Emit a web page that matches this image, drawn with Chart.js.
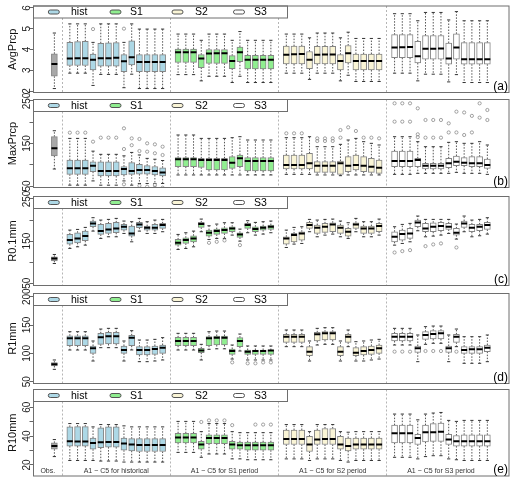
<!DOCTYPE html>
<html><head><meta charset="utf-8">
<script src="https://cdn.jsdelivr.net/npm/chart.js@4.4.1/dist/chart.umd.min.js"></script>
<style>
html,body{margin:0;padding:0;background:#fff;}
#wrap{position:relative;width:515px;height:482px;overflow:hidden;}
#wrap canvas{position:absolute;left:0;top:0;}
</style></head>
<body><div id="wrap">
<canvas id="c0" width="515" height="482"></canvas>
<canvas id="c1" width="515" height="482"></canvas>
<canvas id="c2" width="515" height="482"></canvas>
<canvas id="c3" width="515" height="482"></canvas>
<canvas id="c4" width="515" height="482"></canvas>
</div>
<script>
// ---------- categories ----------
const groups = ['hist', 'S1', 'S2', 'S3'];
const nModels = 13;   // A1 ~ C5 per group
const xLabels = ['Obs.', 'A1 ~ C5 for historical', 'A1 ~ C5 for S1 period', 'A1 ~ C5 for S2 period', 'A1 ~ C5 for S3 period'];

// ---------- AvgPrcp (index 0 = Obs., then hist, S1, S2, S3 x 13) ----------
const avgMin = [2.12,
 2.86,2.86,2.86,2.27,2.80,2.80,2.80,2.16,2.81,2.12,2.12,2.12,2.12,
 2.79,2.79,2.79,2.49,2.71,2.71,2.71,2.41,2.71,2.41,2.41,2.41,2.41,
 2.86,2.86,2.86,2.56,2.86,2.86,2.86,2.49,2.76,2.46,2.46,2.46,2.46,
 2.86,2.86,2.86,2.49,2.81,2.81,2.81,2.44,2.79,2.41,2.41,2.41,2.41];
const avgQ1 = [2.71,
 3.23,3.23,3.23,3.01,3.20,3.20,3.20,2.93,3.26,2.93,2.93,2.93,2.93,
 3.38,3.38,3.38,3.13,3.33,3.33,3.33,3.08,3.41,3.06,3.06,3.06,3.06,
 3.30,3.30,3.30,3.08,3.30,3.30,3.30,3.01,3.35,3.01,3.01,3.01,3.01,
 3.60,3.60,3.60,3.35,3.53,3.53,3.53,3.29,3.53,3.29,3.29,3.29,3.29];
const avgMed = [3.30,
 3.56,3.58,3.58,3.50,3.58,3.58,3.60,3.43,3.62,3.40,3.40,3.40,3.40,
 3.87,3.87,3.87,3.56,3.80,3.82,3.82,3.45,3.87,3.50,3.50,3.50,3.50,
 3.75,3.77,3.78,3.50,3.75,3.76,3.76,3.45,3.82,3.45,3.45,3.45,3.45,
 4.09,4.11,4.12,3.67,4.03,4.04,4.05,3.57,4.09,3.53,3.53,3.53,3.53];
const avgQ3 = [3.79,
 4.34,4.38,4.39,3.78,4.30,4.32,4.33,3.75,4.41,3.75,3.75,3.75,3.75,
 4.02,4.02,4.02,3.75,4.00,4.00,4.00,3.70,4.12,3.72,3.72,3.72,3.72,
 4.16,4.16,4.16,3.90,4.15,4.15,4.15,3.75,4.19,3.78,3.78,3.78,3.78,
 4.71,4.71,4.71,4.39,4.67,4.67,4.67,4.31,4.75,4.33,4.33,4.33,4.33];
const avgMax = [4.79,
 5.23,5.23,5.23,4.34,5.23,5.23,5.23,4.34,5.23,4.98,4.98,4.98,4.98,
 4.74,4.74,4.74,4.44,4.74,4.74,4.74,4.44,4.86,4.44,4.44,4.44,4.44,
 4.74,4.74,4.74,4.56,4.79,4.79,4.79,4.56,4.83,4.53,4.53,4.53,4.53,
 5.72,5.72,5.72,5.38,5.78,5.78,5.78,5.42,5.82,5.38,5.38,5.38,5.38];
const avgOut = [[4,4.98],[8,5.00]];
const avgTicks = [2,3,4,5,6];
const avgTickLabels = ['2','3','4','5','6'];

// ---------- MaxPrcp ----------
const maxMin = [90,
 52,52,52,62,52,52,52,62,52,56,56,56,56,
 76,76,76,76,76,76,76,76,76,76,76,76,76,
 77.4,77.4,77.4,77.4,76,76,76,74.3,76,76,76,76,76,
 77.4,77.4,77.4,79.8,79.8,79.8,79.8,79.8,82.1,79.8,79.8,79.8,77.4];
const maxQ1 = [121,
 77.5,77.5,77.5,83.7,73.5,73.5,73.5,76,77.5,78,78,76,74,
 95.5,95.5,95.5,94,87.6,87.6,87.6,91.6,95.5,85.3,85.3,85.3,85.3,
 90,90,90,90,82.1,82.1,82.1,77.4,83.7,87.6,83.7,82.1,79.8,
 95.5,95.5,95.5,95.5,90,90,90,93.1,97.8,97.8,95.5,95.5,91.6];
const maxMed = [138.6,
 91.6,91.6,91.6,97.8,85.3,85.3,85.3,90,85.3,87.6,87.6,85.3,82,
 112.7,112.7,112.7,111.2,111.2,111.2,111.2,104.9,115.1,108.8,108.8,108.8,108.8,
 99.4,99.4,99.4,103.3,97.8,97.8,97.8,103.3,97.8,99.4,97.8,95.5,93.1,
 108.8,108.8,108.8,111.2,97.8,97.8,97.8,103.3,107.2,104.9,103.3,103.3,99.4];
const maxQ3 = [166,
 111,111,111,107,107,107,107,95.5,105,101,98,96,93,
 116.6,116.6,116.6,115.1,115.1,115.1,115.1,119,122.9,116.6,116.6,116.6,116.6,
 122.9,122.9,122.9,126.9,107.2,107.2,107.2,108.8,119,122.9,119,115.1,111.2,
 132.3,132.3,132.3,115.1,103.3,103.3,103.3,115.1,120.6,116.6,119,119,113.5];
const maxMax = [180,
 162,162,162,132,124.5,124.5,124.5,121,129,123,115,113,110,
 170,170,170,162,162,162,162,163.7,166,158.2,158.2,158.2,158.2,
 163.7,163.7,163.7,166,142.5,142.5,142.5,148,158.2,162,154.3,150.4,146.5,
 166,166,166,154.3,142.5,142.5,142.5,152.7,154.3,150.4,150.4,154.3,146.5];
const maxOut = [[1,175.5],[2,175.5],[3,175.5],[4,154.3],[5,163.7],[6,163.7],[7,163.7],
 [8,185.7],[8,137],[8,54],[9,162],[9,146],[10,160.6],[10,132.3],[10,50.8],[11,150.4],[11,130.8],[11,48.4],
 [12,148],[12,127],[12,52.3],[12,46],[13,142.5],[13,122.9],[13,46],
 [27,173.9],[28,173.9],[29,173.9],[31,162.1],[31,155.9],[32,162.1],[32,155.9],[33,162.1],[33,155.9],
 [34,181.7],[34,163.7],[35,188],[36,179.4],[37,163.7],[38,163.7],[39,162.1],
 [40,244.5],[40,201.4],[41,244.5],[41,201.4],[42,244.5],[42,201.4],[43,232.7],[43,171.6],[43,165],
 [44,205.3],[44,163.7],[45,205.3],[45,163.7],[46,205.3],[46,163.7],[47,197.4],[47,176],[48,224.9],[48,176],
 [49,223],[49,170],[50,215],[50,176],[51,244.5],[51,210.8],[52,228.8],[52,205.3]];
const maxTicks = [50,100,150,200,250];
const maxTickLabels = ['50','','150','','250'];

// ---------- R0.1mm ----------
const r01Min = [96.7,
 132.6,136.4,140.4,173.7,156.3,160.2,160.2,168.2,148.3,173.7,168.2,168.2,172.2,
 130.1,132.4,136.4,172.2,153.9,156.3,156.3,164.2,149.9,169.8,164.2,166.6,169.8,
 134.8,142.8,144.4,172.2,160.2,164.2,166.6,160.2,156.3,172.2,160.2,160.2,164.2,
 140.4,144.4,148.3,174.5,160.2,161.8,164.2,168.2,154.7,172.2,160.2,162.6,166.6];
const r01Q1 = [103.1,
 142.8,145.9,150.7,184.1,165.8,168.2,169.8,176.1,161.8,181.7,176.1,176.1,180.1,
 140.4,144.4,148.3,182.5,161.8,165.8,168.2,172.2,158.7,180.1,172.2,176.1,177.7,
 142.8,148.3,152.3,180.1,168.2,170.6,172.2,168.2,161.8,180.1,168.2,168.2,172.2,
 148.3,152.3,156.3,184.1,172.2,172.2,174.5,177.7,164.2,182.5,172.2,174.5,177.7];
const r01Med = [108.6,
 152.3,156.3,161.8,192,173.7,177.7,180.1,184.1,168.2,189.6,181.7,181.7,188,
 145.9,152.3,156.3,190.4,169.8,173.7,176.1,180.1,165.8,188,178.5,181.7,184.1,
 156.3,164.2,168.2,188,181.7,184.1,189.6,181.7,172.2,189.6,180.1,180.1,185.6,
 160.2,166.6,168.2,194.4,180.1,184.1,185.6,184.1,169.8,192,181.7,184.1,188];
const r01Q3 = [112.6,
 165.8,169.8,173.7,197.6,189.6,192,194.4,189.6,185.6,194.4,185.6,189.6,192,
 153.9,157.9,162.6,194.4,176.1,178.5,181.7,184.1,169.8,192,184.1,185.6,188,
 160.2,168.2,172.2,194.4,188,192,193.6,188,180.1,193.6,185.6,185.6,192,
 172.2,176.1,180.1,199.9,192,193.6,194.4,192,180.1,197.6,189.6,189.6,194.4];
const r01Max = [118.2,
 176.1,177.7,182.5,205.5,199.9,201.5,203.9,197.6,196,203.9,196,199.9,201.5,
 165.8,169.8,173.7,202.3,186.4,190.4,193.6,193.6,178.5,198.4,194.4,196,197.6,
 176.1,182.5,184.1,201.5,199.9,201.5,202.3,197.6,193.6,203.9,196,196,202.3,
 184.1,189.6,192,209.5,201.5,201.5,201.5,201.5,190.4,209.5,199.9,201.5,205.5];
const r01Out = [[18,145.9],[19,148.3],[20,151.5],[22,140.4],[40,122.9],[41,126.1],[42,128.5],[44,138],[45,142],[46,144.4],[48,134.8]];
const r01Ticks = [50,100,150,200,250];
const r01TickLabels = ['50','','150','','250'];

// ---------- R1mm ----------
const r1Min = [71.8,
 105.9,105.9,105.9,86.5,110,110,110,86.5,106,85.3,85.3,86.5,88.3,
 105.9,105.9,105.9,88.3,107.1,108,108,90,104.1,88.3,88.3,88.3,88.3,
 111.8,111.8,111.8,86.5,114.7,115.9,115.9,86.5,111.8,86.5,86.5,88.3,90,
 114.7,114.7,114.7,85.3,115.9,117.7,117.7,85.3,111.8,82.4,82.4,82.4,85.3];
const r1Q1 = [77.7,
 113.5,113.5,113.5,100,115.9,116.5,116.5,100,113.5,97.1,97.1,98.3,100,
 113.5,113.5,113.5,101.2,113.5,114.7,114.7,98.3,111.8,98.3,98.3,98.3,98.3,
 119.4,119.4,119.4,95.9,121.8,123.5,123.5,95.9,119.4,95.9,97.1,98.3,100,
 121.8,121.8,121.8,101.8,124.7,125.3,125.3,101.8,119.4,100,100,100,103];
const r1Med = [80.6,
 126.5,126.5,126.5,108.8,128.5,130,130,106,127.7,105.9,105.9,107.7,110,
 121.8,121.8,121.8,105,126.5,127.7,127.7,104.1,121.8,103,104.1,104.1,105,
 129.4,129.4,129.4,103,133.5,135.3,135.3,103,129.4,101.2,104.1,105.9,108.8,
 129.4,129.4,129.4,108.8,132.4,134.1,135.3,108.8,129.4,105.9,107.1,107.1,110];
const r1Q3 = [83.6,
 131,131,131,113,135.3,137.1,137.1,113,131.8,111.8,111.8,113,114.7,
 128.2,128.2,128.2,108.8,129.4,130.6,130.6,107.7,127.7,105.9,105.9,105.9,105.9,
 133.5,133.5,133.5,111.8,137.1,138.2,138.2,111.8,133.5,110,111.8,113,114.7,
 135.3,135.3,135.3,113,138.2,140,140,113,133.5,111.8,111.8,111.8,114.7];
const r1Max = [88.3,
 138.2,138.2,138.2,121.8,142.9,144.1,144.1,121.8,140,123.5,123.5,124.7,127.7,
 135.3,135.3,135.3,115.9,138.2,139.4,139.4,114.7,134.1,113,113,113,113,
 141.2,141.2,141.2,121.8,144.1,145.3,145.3,121.8,141.2,120.6,121.8,123.5,124.7,
 144.1,144.1,144.1,132.4,147.1,148.2,148.2,132.4,142.9,129.4,129.4,129.4,132.4];
const r1Out = [[21,84.1],[23,82.4],[24,82.4],[25,84],[26,84],[40,103],[41,103],[42,103],[44,104.1],[45,104.1],[46,104.1],[48,103]];
const r1Ticks = [50,100,150,200];
const r1TickLabels = ['50','100','150','200'];

// ---------- R10mm ----------
const r10Min = [25.8,
 23.1,23.1,23.1,23.1,22.7,22.7,22.7,22,22,22,22,22,22,
 28.7,28.7,28.7,25.3,27.6,27.6,27.6,24.2,24.2,23.6,23.6,23.6,23.6,
 24.2,24.2,24.2,23.1,24.2,24.2,24.2,23.1,22,23.1,23.1,23.1,23.1,
 25.3,25.3,25.3,24.2,25.8,26.4,26.4,24.2,23.6,23.1,23.1,23.1,23.1];
const r10Q1 = [30.9,
 33.1,33.1,33.1,30.9,32,32.4,32.4,30.2,29.8,29.3,29.3,29.3,29.3,
 35.3,35.3,35.3,30.9,34.7,34.7,34.7,30.9,30.9,30.2,30.2,30.2,30.2,
 34.2,34.2,34.2,29.3,34.2,34.2,34.2,30.9,29.8,30.9,30.9,30.9,30.9,
 35.3,35.3,35.3,34.2,36,36.4,36.4,34.2,33.1,33.1,33.1,33.1,33.1];
const r10Med = [33.1,
 36.4,36.2,36.2,35.3,35.8,36,36,34.9,34.2,33.8,33.8,33.8,33.8,
 39.1,39.1,39.1,34.2,38.7,38.7,38.7,34.2,33.6,33.6,33.6,33.6,33.6,
 38,38,38,34.2,37.6,38,38,34.2,33.1,34.2,34.2,34.2,34.2,
 42,42,42,38.7,42.7,42.7,43.1,37.6,36.4,36.4,36.4,36.4,36.4];
const r10Q3 = [35.3,
 46.4,46.6,46.6,38.7,45.8,46.4,46.4,38.7,38.2,38.2,38.2,38.2,38.2,
 42,42,42,36.4,40.9,40.9,40.9,36.4,35.8,35.8,35.8,35.8,35.8,
 44.2,44.2,44.2,39.8,44.2,45.3,45.3,39.8,38.7,38.7,38.7,38.7,38.7,
 47.6,47.6,47.6,41.3,47.6,48.7,49.1,41.3,40.4,40.9,40.9,40.9,40.9];
const r10Max = [37.6,
 48.7,48.7,48.7,46.4,48,48,48,47.1,46.4,46.4,46.4,46.4,46.4,
 50.2,50.2,50.2,43.1,48.7,48.7,48.7,43.1,42.4,42.4,42.4,42.4,42.4,
 48,48,48,43.1,48,48,48,43.1,42.7,43.1,43.1,43.1,43.1,
 55.3,55.3,55.3,51.3,55.3,56,56.4,50.9,50.2,50.9,50.9,50.9,50.9];
const r10Out = [[17,49.8],[18,50.9],[19,50.9],[20,50.9],[21,47.6],[24,48],[25,48],[26,48]];
const r10Ticks = [20,30,40,50,60];
const r10TickLabels = ['20','','40','','60'];

// ---------- styling / layout ----------
const FONT = "'Liberation Sans', Arial, sans-serif";
const OBS_COLOR = '#a8a8a8';
const groupColors = ['#add8e6', '#90ee90', '#faf5d6', '#ffffff'];
const BOX_BORDER = '#858585', WHISK_COLOR = '#555555', CAP_COLOR = '#333333', OUT_COLOR = '#8a8a8a';
const FRAME_COLOR = '#6e6e6e', SEP_COLOR = '#b5b5b5';
const FRAME_L = 33.5, FRAME_R = 512.5, LEG_R = 287.5, LEG_H = 12, TICK_LEN = 4, TICK_X = 27;
const X_MIN = -1.7, X_MAX = 59.8;
const LEG_SYM_X = [53.8, 115.5, 177.5, 239];
const LEG_TXT_X = [71, 130, 195, 254];

// positions along x: Obs at 1, then groups of 13 separated by a gap
const positions = [1];
groups.forEach((g, gi) => { for (let m = 0; m < nModels; m++) positions.push(3 + gi * (nModels + 1) + m); });
const sepPositions = groups.map((g, gi) => 2 + gi * (nModels + 1));
const labelPositions = [(X_MIN + sepPositions[0]) / 2].concat(groups.map((g, gi) => 3 + gi * (nModels + 1) + (nModels - 1) / 2));
const boxColors = [OBS_COLOR];
groups.forEach((g, gi) => { for (let m = 0; m < nModels; m++) boxColors.push(groupColors[gi]); });

const panels = [
  {id:'c0', title:'AvgPrcp', tag:'(a)', top:1.5,   bottom:92.5,  min:1.93, max:6.09,  ticks:avgTicks, tl:avgTickLabels, mn:avgMin, q1:avgQ1, md:avgMed, q3:avgQ3, mx:avgMax, out:avgOut},
  {id:'c1', title:'MaxPrcp', tag:'(b)', top:99.5,  bottom:187.5, min:46.5, max:253.5, ticks:maxTicks, tl:maxTickLabels, mn:maxMin, q1:maxQ1, md:maxMed, q3:maxQ3, mx:maxMax, out:maxOut},
  {id:'c2', title:'R0.1mm',  tag:'(c)', top:196.5, bottom:285.5, min:44.5, max:255.9, ticks:r01Ticks, tl:r01TickLabels, mn:r01Min, q1:r01Q1, md:r01Med, q3:r01Q3, mx:r01Max, out:r01Out},
  {id:'c3', title:'R1mm',    tag:'(d)', top:293.5, bottom:383.5, min:46.8, max:205.6, ticks:r1Ticks, tl:r1TickLabels, mn:r1Min, q1:r1Q1, md:r1Med, q3:r1Q3, mx:r1Max, out:r1Out},
  {id:'c4', title:'R10mm',   tag:'(e)', top:389.5, bottom:479.5, min:12.33, max:72.33, ticks:r10Ticks, tl:r10TickLabels, mn:r10Min, q1:r10Q1, md:r10Med, q3:r10Q3, mx:r10Max, out:r10Out}
];

const mctx = document.createElement('canvas').getContext('2d');
function textW(t, size) { mctx.font = size + 'px ' + FONT; return mctx.measureText(t).width; }

const decor = {
  id: 'panelDecor',
  afterDraw(chart, args, opts) {
    const {ctx, chartArea: a} = chart;
    ctx.save();
    ctx.lineWidth = 1;
    // legend box
    ctx.fillStyle = '#ffffff';
    ctx.fillRect(a.left, a.top, LEG_R - a.left, LEG_H);
    ctx.strokeStyle = FRAME_COLOR;
    ctx.strokeRect(a.left, a.top, LEG_R - a.left, LEG_H);
    const cy = a.top + LEG_H / 2;
    groups.forEach((g, k) => {
      ctx.beginPath();
      if (ctx.roundRect) ctx.roundRect(LEG_SYM_X[k] - 5.5, cy - 2, 11, 4, 2);
      else ctx.rect(LEG_SYM_X[k] - 5.5, cy - 2, 11, 4);
      ctx.fillStyle = groupColors[k];
      ctx.fill();
      ctx.strokeStyle = '#555555';
      ctx.stroke();
      ctx.fillStyle = '#000000';
      ctx.font = '10.5px ' + FONT;
      ctx.textAlign = 'left';
      ctx.textBaseline = 'middle';
      ctx.fillText(g, LEG_TXT_X[k], cy + 0.5);
    });
    // frame
    ctx.strokeStyle = FRAME_COLOR;
    ctx.strokeRect(a.left, a.top, a.right - a.left, a.bottom - a.top);
    // panel tag
    ctx.fillStyle = '#000000';
    ctx.font = '12px ' + FONT;
    ctx.textAlign = 'right';
    ctx.textBaseline = 'alphabetic';
    ctx.fillText(opts.tag, 508, a.bottom - 3);
    ctx.restore();
  }
};

panels.forEach((P, idx) => {
  const isLast = idx === panels.length - 1;
  const boxData = positions.map((p, i) => ({x: p, y: [P.q1[i], P.q3[i]]}));
  const whiskData = [];
  positions.forEach((p, i) => {
    whiskData.push({x: p, y: P.q3[i]}, {x: p, y: P.mx[i]}, {x: p, y: null},
                   {x: p, y: P.q1[i]}, {x: p, y: P.mn[i]}, {x: p, y: null});
  });
  const capData = [];
  positions.forEach((p, i) => { capData.push({x: p, y: P.mx[i]}, {x: p, y: P.mn[i]}); });
  const medData = positions.map((p, i) => ({x: p, y: P.md[i]}));
  const outData = P.out.map(o => ({x: positions[o[0]], y: o[1]}));
  const widest = Math.max(...P.tl.filter(s => s).map(s => textW(s, 10)));
  const yPad = FRAME_L - TICK_LEN - widest / 2 - TICK_X;

  new Chart(document.getElementById(P.id), {
    type: 'bar',
    data: { datasets: [
      {type: 'bar', label: 'box', data: boxData, backgroundColor: boxColors, borderColor: BOX_BORDER,
       borderWidth: 1, borderSkipped: false, barThickness: 6, order: 2},
      {type: 'line', label: 'whisker', data: whiskData, borderColor: WHISK_COLOR, borderWidth: 1,
       borderDash: [1.5, 1.5], pointRadius: 0, spanGaps: false, fill: false, tension: 0, order: 4},
      {type: 'scatter', label: 'cap', data: capData, pointStyle: 'line', pointRadius: 1.6,
       pointBorderColor: CAP_COLOR, pointBorderWidth: 1, order: 3},
      {type: 'scatter', label: 'median', data: medData, pointStyle: 'line', pointRadius: 3,
       pointBorderColor: '#000000', pointBorderWidth: 2, order: 0},
      {type: 'scatter', label: 'outlier', data: outData, pointStyle: 'circle', pointRadius: 1.6,
       pointBackgroundColor: 'rgba(0,0,0,0)', pointBorderColor: OUT_COLOR, pointBorderWidth: 0.8, order: 1}
    ]},
    options: {
      responsive: false, animation: false, devicePixelRatio: 1, events: [],
      layout: {padding: {top: P.top, bottom: 482 - P.bottom, left: 0, right: 515 - FRAME_R}},
      plugins: {legend: {display: false}, tooltip: {enabled: false}, panelDecor: {tag: P.tag}},
      scales: {
        x: {type: 'linear', min: X_MIN, max: X_MAX, offset: false, position: 'bottom',
            afterBuildTicks: s => { s.ticks = sepPositions.map(v => ({value: v})); },
            afterFit: s => { s.height = 0; },
            ticks: {display: false},
            grid: {display: true, drawOnChartArea: true, drawTicks: false, color: SEP_COLOR, lineWidth: 1, offset: false},
            border: {display: false, dash: [2, 2]}},
        xl: {type: 'linear', display: isLast, min: X_MIN, max: X_MAX, offset: false, position: 'bottom',
            afterBuildTicks: s => { s.ticks = labelPositions.map(v => ({value: v})); },
            afterFit: s => { s.height = 0; },
            ticks: {callback: (v, i) => xLabels[i], font: {family: FONT, size: 7}, color: '#333333',
                    mirror: true, padding: 0.8, autoSkip: false, maxRotation: 0, minRotation: 0},
            grid: {display: false, drawTicks: false, drawOnChartArea: false}, border: {display: false}},
        y: {type: 'linear', min: P.min, max: P.max, position: 'left',
            afterBuildTicks: s => { s.ticks = P.ticks.map(v => ({value: v})); },
            afterFit: s => { s.width = FRAME_L; },
            ticks: {callback: (v, i) => P.tl[i], minRotation: 90, maxRotation: 90, crossAlign: 'center',
                    padding: yPad, autoSkip: false, font: {family: FONT, size: 10}, color: '#222222'},
            grid: {display: true, drawOnChartArea: false, drawTicks: true, tickLength: TICK_LEN, tickColor: '#666666', tickWidth: 1},
            border: {display: false},
            title: {display: true, text: P.title, font: {family: FONT, size: 11}, color: '#111111', padding: {top: 6.4, bottom: 0}}}
      }
    },
    plugins: [decor]
  });
});
</script>
</body></html>
